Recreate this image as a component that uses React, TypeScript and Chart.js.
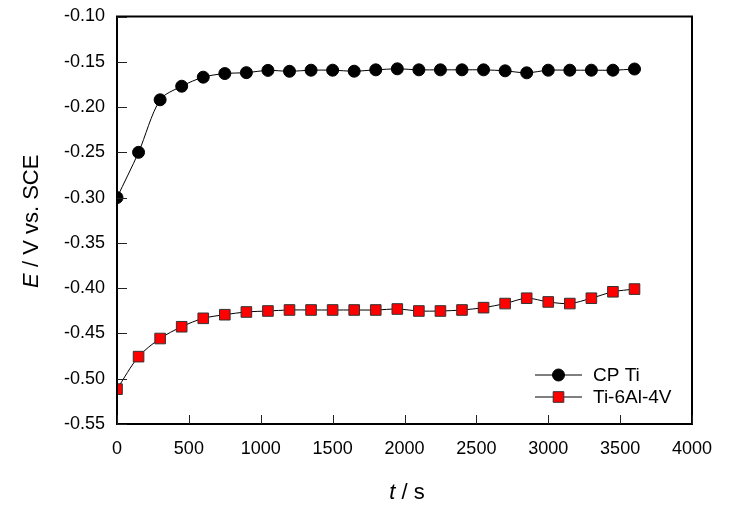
import React, { useEffect, useRef } from "react";
import { Chart, registerables } from "chart.js";

Chart.register(...registerables);

const times = [0, 150, 300, 450, 600, 750, 900, 1050, 1200, 1350, 1500, 1650, 1800, 1950, 2100, 2250, 2400, 2550, 2700, 2850, 3000, 3150, 3300, 3450, 3600];
const cpTi = [-0.300, -0.250, -0.192, -0.177, -0.167, -0.163, -0.162, -0.1595, -0.1605, -0.1593, -0.1593, -0.1604, -0.1589, -0.1578, -0.1589, -0.1589, -0.1589, -0.1589, -0.160, -0.1622, -0.1593, -0.1593, -0.1593, -0.1593, -0.158];
const ti64 = [-0.5115, -0.4756, -0.4556, -0.4426, -0.4333, -0.4293, -0.4263, -0.4252, -0.4241, -0.4241, -0.4241, -0.4241, -0.4241, -0.4230, -0.4252, -0.4252, -0.4241, -0.4215, -0.4170, -0.4111, -0.4152, -0.4170, -0.4111, -0.4040, -0.4010];
const seriesNames = ["CP Ti", "Ti-6Al-4V"];
const xTitle = ["t", " / s"];
const yTitle = ["E", " / V vs. SCE"];

const FONT = "'Liberation Sans', Arial, sans-serif";

const framePlugin = {
  id: "frame",
  afterDraw(chart: any) {
    const { ctx, chartArea: a, scales } = chart;
    ctx.save();
    ctx.strokeStyle = "#000";
    ctx.lineWidth = 2;
    ctx.strokeRect(a.left, a.top, a.right - a.left, a.bottom - a.top);
    ctx.lineWidth = 1;
    ctx.strokeStyle = "#222";
    ctx.beginPath();
    scales.x.ticks.forEach((t: any) => {
      const px = Math.round(scales.x.getPixelForValue(t.value)) + 0.5;
      ctx.moveTo(px, a.bottom);
      ctx.lineTo(px, a.bottom - 9);
    });
    scales.y.ticks.forEach((t: any) => {
      const py = Math.round(scales.y.getPixelForValue(t.value)) + 0.5;
      ctx.moveTo(a.left, py);
      ctx.lineTo(a.left + 10, py);
    });
    ctx.stroke();

    const drawMixed = (parts: string[], cx: number, cy: number, rot: number) => {
      ctx.save();
      ctx.translate(cx, cy);
      ctx.rotate(rot);
      ctx.fillStyle = "#000";
      ctx.textBaseline = "alphabetic";
      const f1 = `italic 22px ${FONT}`;
      const f2 = `22px ${FONT}`;
      ctx.font = f1;
      const w1 = ctx.measureText(parts[0]).width;
      ctx.font = f2;
      const w2 = ctx.measureText(parts[1]).width;
      const x0 = -(w1 + w2) / 2;
      ctx.font = f1;
      ctx.textAlign = "left";
      ctx.fillText(parts[0], x0, 0);
      ctx.font = f2;
      ctx.fillText(parts[1], x0 + w1, 0);
      ctx.restore();
    };
    drawMixed(xTitle, (a.left + a.right) / 2 + 2.5, 491, 0);
    drawMixed(yTitle, 30, (a.top + a.bottom) / 2 + 1, -Math.PI / 2);

    const lx = a.right - 157;
    const ly = a.bottom - 49;
    const styles = [
      { shape: "circle", fill: "#000", stroke: "#000", r: 6 },
      { shape: "rect", fill: "#ff0000", stroke: "#333", r: 7.5 },
    ];
    seriesNames.forEach((name, i) => {
      const y = ly + i * 22;
      ctx.strokeStyle = "#000";
      ctx.lineWidth = 1;
      ctx.beginPath();
      ctx.moveTo(lx, y);
      ctx.lineTo(lx + 47, y);
      ctx.stroke();
      const s = styles[i];
      ctx.fillStyle = s.fill;
      ctx.strokeStyle = s.stroke;
      ctx.beginPath();
      if (s.shape === "circle") {
        ctx.arc(lx + 23.5, y, s.r, 0, Math.PI * 2);
      } else {
        const h = Math.SQRT1_2 * s.r;
        ctx.rect(lx + 23.5 - h, y - h, 2 * h, 2 * h);
      }
      ctx.fill();
      ctx.stroke();
      ctx.fillStyle = "#000";
      ctx.font = `19px ${FONT}`;
      ctx.textAlign = "left";
      ctx.textBaseline = "middle";
      ctx.fillText(name, lx + 58, y + 1);
    });
    ctx.restore();
  },
};

export default function App() {
  const ref = useRef<HTMLCanvasElement>(null);
  useEffect(() => {
    if (!ref.current) return;
    const chart = new Chart(ref.current, {
      type: "line",
      data: {
        datasets: [
          {
            label: seriesNames[0],
            data: times.map((t, i) => ({ x: t, y: cpTi[i] })),
            borderColor: "#000",
            borderWidth: 1,
            backgroundColor: "#000",
            pointBackgroundColor: "#000",
            pointBorderColor: "#000",
            pointRadius: 6,
            pointStyle: "circle",
            tension: 0.3,
          },
          {
            label: seriesNames[1],
            data: times.map((t, i) => ({ x: t, y: ti64[i] })),
            borderColor: "#000",
            borderWidth: 1,
            backgroundColor: "#ff0000",
            pointBackgroundColor: "#ff0000",
            pointBorderColor: "#333",
            pointBorderWidth: 1,
            pointRadius: 7.5,
            pointStyle: "rect",
            tension: 0.3,
          },
        ],
      },
      options: {
        animation: false,
        responsive: true,
        maintainAspectRatio: false,
        layout: { padding: { top: 8, right: 36, left: 0, bottom: 0 } },
        plugins: { legend: { display: false }, tooltip: { enabled: false } },
        scales: {
          x: {
            type: "linear",
            min: 0,
            max: 4000,
            ticks: {
              stepSize: 500,
              color: "#000",
              font: { family: FONT, size: 18 },
              padding: 14,
              maxRotation: 0,
              callback: (v: any) => String(v),
            },
            grid: { display: false, drawTicks: false, tickLength: 0 },
            border: { display: false },
            afterFit: (s: any) => { s.height = 84; },
          },
          y: {
            min: -0.55,
            max: -0.1,
            ticks: {
              stepSize: 0.05,
              color: "#000",
              font: { family: FONT, size: 18, lineHeight: 0.8 },
              padding: 0,
              callback: (v: any) => Number(v).toFixed(2),
            },
            grid: { display: false, drawTicks: true, tickLength: 12, tickColor: "rgba(0,0,0,0)" },
            border: { display: false },
            afterFit: (s: any) => { s.width = 109; },
          },
        },
      },
      plugins: [framePlugin],
    });
    return () => chart.destroy();
  }, []);
  return (
    <div style={{ width: 720, height: 500, position: "relative" }}>
      <canvas ref={ref} />
    </div>
  );
}
